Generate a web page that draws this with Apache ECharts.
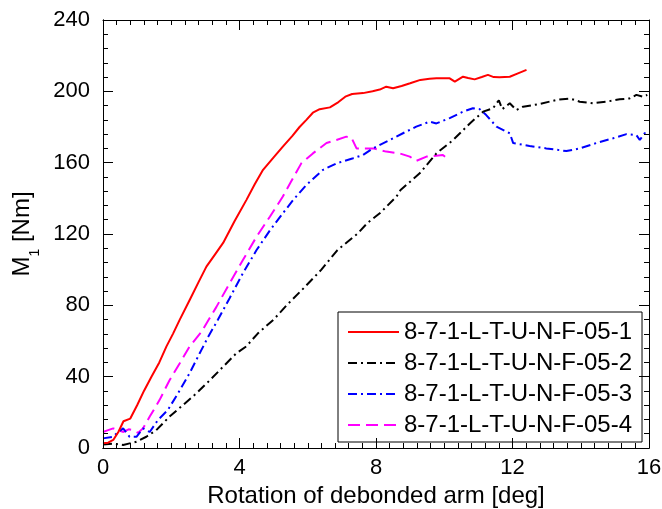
<!DOCTYPE html>
<html>
<head>
<meta charset="utf-8">
<script src="https://cdn.jsdelivr.net/npm/echarts@6/dist/echarts.min.js"></script>
<style>
html,body{margin:0;padding:0;background:#fff;}
#wrap{position:relative;width:662px;height:509px;}
#c{position:absolute;left:0;top:0;width:662px;height:509px;}
#t{position:absolute;left:0;top:0;width:662px;height:509px;pointer-events:none;}
</style>
</head>
<body>
<div id="wrap"><div id="c"></div><div id="t"></div></div>
<script>
var seriesNames = ['8-7-1-L-T-U-N-F-05-1','8-7-1-L-T-U-N-F-05-2','8-7-1-L-T-U-N-F-05-3','8-7-1-L-T-U-N-F-05-4'];
var xTicks = [0,4,8,12,16];
var yTicks = [0,40,80,120,160,200,240];

var specimen1 = [[0,2.6],[0.15,3],[0.3,4.5],[0.45,9],[0.6,15],[0.8,16.5],[1.0,24],[1.2,32],[1.42,40],[1.65,48],[1.86,57],[2.05,64],[2.25,72],[2.54,83],[2.8,93],[3.03,101.7],[3.3,109],[3.52,115],[3.85,127],[4.2,139],[4.45,148],[4.69,156],[5.0,163],[5.27,169],[5.55,175],[5.76,180],[5.96,184],[6.15,188],[6.35,190],[6.65,191],[6.9,194],[7.1,197],[7.3,198.5],[7.62,199],[7.9,200],[8.11,201],[8.3,202.6],[8.5,201.7],[8.75,203],[9.0,204.5],[9.3,206.4],[9.57,207],[9.77,207.3],[10.16,207.3],[10.31,205.4],[10.55,208.2],[10.7,207.5],[10.89,206.7],[11.1,208],[11.28,209.2],[11.45,208],[11.62,207.9],[11.92,208.2],[12.16,210.1],[12.41,212]];

var specimen2 = [[0,2],[0.3,2.5],[0.59,1.7],[0.78,2.6],[0.98,3.5],[1.27,6.3],[1.56,10],[1.95,17.6],[2.34,24],[2.74,30.7],[3.13,38],[3.52,45.6],[3.9,53],[4.2,57],[4.54,64.3],[5.0,72],[5.38,80],[5.9,90],[6.4,100],[6.87,111],[7.47,120.4],[7.74,126],[8.11,131.6],[8.6,141],[8.72,144.7],[9.28,154],[9.77,165.2],[10.26,172.7],[10.75,182],[11.14,188.6],[11.43,190.5],[11.6,195],[11.7,190],[11.92,193.3],[12.11,189.5],[12.31,191.4],[12.8,192.9],[13.29,195.2],[13.68,196],[13.97,194.2],[14.36,193.3],[14.75,194.2],[15.14,195.5],[15.43,196],[15.63,198],[15.82,197],[15.95,198]];

var specimen3 = [[0,5.4],[0.29,6.3],[0.45,9],[0.59,11],[0.78,6.3],[0.98,6.3],[1.17,11],[1.37,9],[1.61,15.7],[1.9,21.3],[2.2,30.7],[2.54,42],[2.83,53],[3.1,63],[3.37,72],[3.71,84],[4.1,98],[4.5,111],[4.89,122],[5.27,131.6],[5.57,139],[5.96,147.5],[6.45,156],[6.84,159.6],[7.33,162.5],[7.62,164.3],[7.91,168],[8.4,172.7],[8.79,176.5],[9.18,180.2],[9.57,183],[9.77,182],[10.16,185],[10.55,188.6],[10.84,190.5],[11.04,190],[11.23,186.7],[11.53,180.2],[11.92,176.5],[12.02,171],[12.5,169.4],[12.99,168],[13.58,166.5],[13.97,168],[14.46,171],[14.95,173.7],[15.34,176],[15.63,175.5],[15.73,172.7],[15.87,176.5],[16,177]];

var specimen4 = [[0,9],[0.15,10],[0.3,11],[0.45,10],[0.6,9],[0.75,10.5],[0.88,10],[1.03,8.5],[1.17,11],[1.37,17.6],[1.66,27],[1.95,38],[2.25,47.5],[2.54,57],[2.88,65],[3.1,72],[3.32,79],[3.71,92.4],[4.1,105.4],[4.5,118.5],[4.89,129.7],[5.27,141],[5.5,149],[5.81,159.6],[6.15,165.2],[6.55,171],[6.84,172.7],[7.13,174.6],[7.28,174],[7.43,168],[7.62,168],[7.91,168],[8.3,166.2],[8.69,165.2],[8.99,163.4],[9.18,161],[9.48,163.4],[9.96,164.3],[10.11,162]];

var FONT = "'Liberation Sans', Arial, sans-serif";
var xMin = xTicks[0], xMax = xTicks[xTicks.length-1], xStep = xTicks[1] - xTicks[0];
var yMin = yTicks[0], yMax = yTicks[yTicks.length-1], yStep = yTicks[1] - yTicks[0];
var gridBox = {left:103, right:13, top:20, bottom:61, outerBoundsMode:'none'};

/* main chart: curves, labels, names, legend */
var xMain = {
  type:'value', position:'bottom', min:xMin, max:xMax, interval:xStep,
  axisLine:{show:true, onZero:false, lineStyle:{color:'#000', width:1}},
  axisTick:{show:false}, minorTick:{show:false}, splitLine:{show:false},
  axisLabel:{show:true, color:'#000', fontFamily:FONT, fontSize:22, margin:9},
  name:'Rotation of debonded arm [deg]', nameLocation:'middle', nameGap:29,
  nameTextStyle:{color:'#000', fontFamily:FONT, fontSize:24}
};
var yMain = {
  type:'value', position:'left', min:yMin, max:yMax, interval:yStep,
  axisLine:{show:true, onZero:false, lineStyle:{color:'#000', width:1}},
  axisTick:{show:false}, minorTick:{show:false}, splitLine:{show:false},
  axisLabel:{show:true, color:'#000', fontFamily:FONT, fontSize:22, margin:13},
  name:'{a|M}{s|1}{a| [Nm]}', nameLocation:'middle', nameGap:64, nameRotate:90,
  nameTextStyle:{color:'#000', fontFamily:FONT, fontSize:24,
    rich:{a:{fontFamily:FONT, fontSize:24, color:'#000'}, s:{fontFamily:FONT, fontSize:14, color:'#000', verticalAlign:'bottom', padding:[0,0,-8,0]}}}
};

var colors = ['#ff0000','#000000','#0000ff','#ff00ff'];
var dashes = ['solid',[9,4,2,4],[9,4,2,4],[12,6]];
var datas = [specimen1, specimen2, specimen3, specimen4];
var series = datas.map(function(d,i){
  return {
    name: seriesNames[i], type:'line', data:d,
    showSymbol:false, symbol:'none', smooth:false,
    lineStyle:{color:colors[i], width:2, type:dashes[i]},
    itemStyle:{color:colors[i]}, z: 10 - i
  };
});

var chart = echarts.init(document.getElementById('c'), null, {renderer:'canvas'});
chart.setOption({
  animation:false,
  backgroundColor:'#fff',
  grid:Object.assign({}, gridBox),
  xAxis:xMain,
  yAxis:yMain,
  legend:{
    show:true, orient:'vertical', left:338, top:312,
    data:seriesNames,
    backgroundColor:'#fff', borderColor:'#000', borderWidth:1,
    padding:[8,10,5,9], itemGap:7, itemWidth:51, itemHeight:2,
    textStyle:{color:'#000', fontFamily:FONT, fontSize:24, lineHeight:24},
    selectedMode:false
  },
  series:series
});

/* overlay chart: the box frame with inward major and minor ticks on all four sides */
function tickAxis(pos, min, max, interval, split){
  return {
    type:'value', position:pos, min:min, max:max, interval:interval,
    axisLine:{show:true, onZero:false, lineStyle:{color:'#000', width:1}},
    axisTick:{show:true, inside:true, length:10, lineStyle:{color:'#000', width:1}},
    minorTick:{show:true, splitNumber:split, length:5, lineStyle:{color:'#000', width:1}},
    splitLine:{show:false},
    axisLabel:{show:false}
  };
}
var frame = echarts.init(document.getElementById('t'), null, {renderer:'canvas'});
frame.setOption({
  animation:false,
  grid:Object.assign({}, gridBox),
  xAxis:[tickAxis('bottom',xMin,xMax,xStep,10), tickAxis('top',xMin,xMax,xStep,10)],
  yAxis:[tickAxis('left',yMin,yMax,yStep,5), tickAxis('right',yMin,yMax,yStep,5)],
  series:[{type:'line', data:[], xAxisIndex:0, yAxisIndex:0, silent:true}]
});
</script>
</body>
</html>
